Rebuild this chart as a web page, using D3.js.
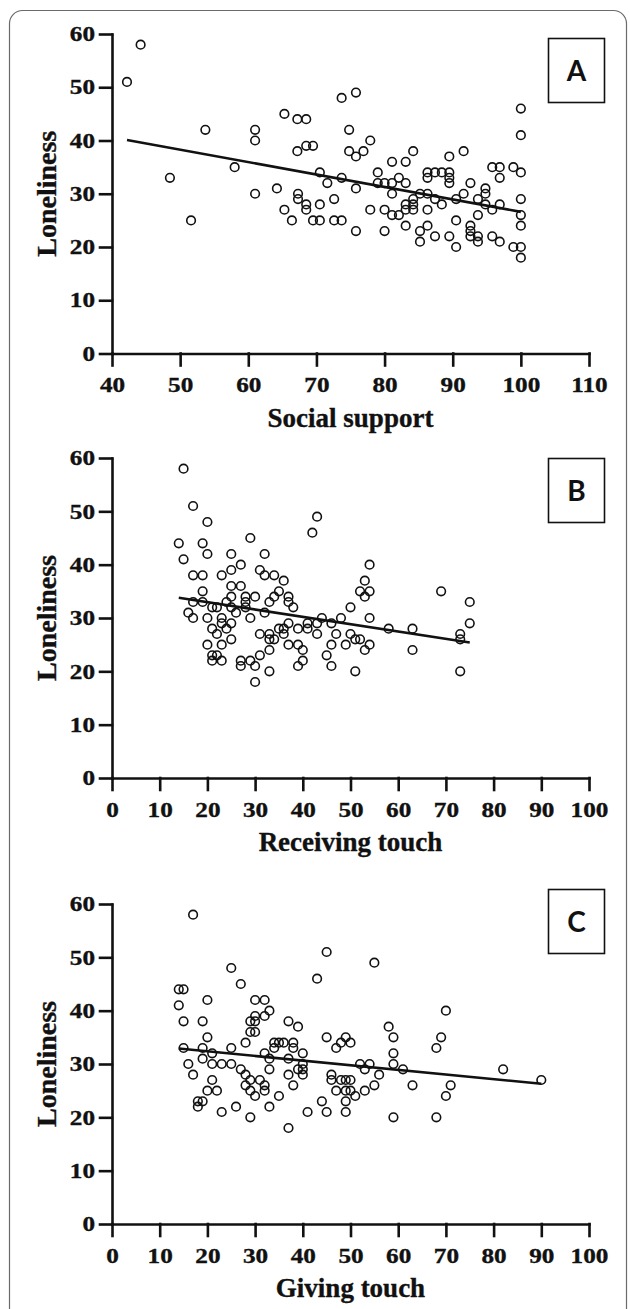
<!DOCTYPE html>
<html>
<head>
<meta charset="utf-8">
<script src="https://cdn.jsdelivr.net/npm/d3@7"></script>
<style>
body { margin: 0; background: #fff; }
</style>
</head>
<body>
<script>
// tick labels
var yTicks = [0, 10, 20, 30, 40, 50, 60];
var xTicksA = [40, 50, 60, 70, 80, 90, 100, 110];
var xTicksBC = [0, 10, 20, 30, 40, 50, 60, 70, 80, 90, 100];

// A: social support vs loneliness
var supportPts = [
  [42.2, 51], [44.2, 58], [48.5, 33], [51.6, 25], [53.7, 42], [58, 35],
  [61, 42], [61, 40], [61, 30], [64.2, 31], [65.3, 45], [65.3, 27], [66.4, 25],
  [67.2, 44], [68.5, 44], [67.2, 38], [68.5, 39], [69.5, 39], [67.3, 30], [67.3, 29],
  [68.5, 28], [68.5, 27], [69.5, 25], [70.5, 34], [70.5, 28], [70.5, 25], [71.6, 32],
  [72.6, 29], [72.6, 25], [73.7, 48], [73.7, 33], [73.7, 25], [74.8, 42], [74.8, 38],
  [75.8, 49], [75.8, 37], [75.8, 31], [75.8, 23], [76.9, 38], [77.9, 40], [77.9, 27],
  [79, 34], [79, 32], [80, 32], [80, 27], [80, 23], [81.1, 36], [81.1, 32], [81.1, 30],
  [81.1, 26], [82.1, 33], [82.1, 26], [83.1, 36], [83.1, 32], [83.1, 28], [83.1, 27],
  [83.1, 24], [84.2, 38], [84.2, 29], [84.2, 28], [84.2, 27], [85.2, 30], [85.2, 23],
  [85.2, 21], [86.3, 34], [86.3, 33], [86.3, 30], [86.3, 27], [86.3, 24], [87.4, 34],
  [87.4, 29], [87.4, 22], [88.4, 34], [88.4, 28], [89.5, 37], [89.5, 34], [89.5, 33],
  [89.5, 32], [89.5, 22], [90.5, 29], [90.5, 25], [90.5, 20], [91.6, 38], [91.6, 30],
  [92.6, 32], [92.6, 24], [92.6, 23], [92.6, 22], [93.7, 29], [93.7, 26], [93.7, 22],
  [93.7, 21], [94.8, 31], [94.8, 30], [94.8, 28], [95.8, 35], [95.8, 27], [95.8, 22],
  [96.9, 35], [96.9, 33], [96.9, 28], [96.9, 21], [98.9, 35], [98.9, 20],
  [100, 46], [100, 41], [100, 34], [100, 29], [100, 26], [100, 24], [100, 20], [100, 18]
];
var fitA = [[42.2, 40.1], [100, 26.6]];

// B: receiving touch vs loneliness
var receivingPts = [
  [14, 44], [15, 58], [15, 41], [16, 31], [17, 51], [17, 38], [17, 33], [17, 30],
  [19, 44], [19, 38], [19, 35], [19, 33], [20, 48], [20, 42], [20, 30], [20, 25],
  [21, 32], [21, 28], [21, 23], [21, 22], [22, 32], [22, 27], [22, 23], [23, 38],
  [23, 30], [23, 29], [23, 25], [23, 22], [24, 33], [24, 28], [25, 42], [25, 39],
  [25, 36], [25, 34], [25, 32], [25, 29], [25, 26], [26, 31], [27, 40], [27, 36],
  [27, 22], [27, 21], [28, 34], [28, 33], [28, 32], [29, 45], [29, 30], [29, 22],
  [30, 34], [30, 21], [30, 18], [31, 39], [31, 27], [31, 23], [32, 42], [32, 38],
  [32, 31], [33, 33], [33, 27], [33, 26], [33, 24], [33, 20], [34, 38], [34, 34],
  [34, 26], [35, 35], [35, 28], [36, 37], [36, 28], [36, 27], [37, 34], [37, 33],
  [37, 29], [37, 25], [38, 32], [39, 28], [39, 25], [39, 21], [40, 24], [40, 22],
  [41, 29], [41, 28], [42, 46], [43, 49], [43, 29], [43, 27], [44, 30], [45, 23],
  [46, 29], [46, 25], [46, 21], [47, 27], [48, 30], [49, 25], [50, 32], [50, 27],
  [51, 26], [51, 20], [52, 35], [52, 26], [53, 37], [53, 34], [53, 24], [54, 40],
  [54, 35], [54, 30], [54, 25], [58, 28], [63, 28], [63, 24], [69, 35], [73, 27],
  [73, 26], [73, 20], [75, 33], [75, 29]
];
var fitB = [[14, 33.8], [75, 25.4]];

// C: giving touch vs loneliness
var givingPts = [
  [14, 44], [15, 44], [14, 41], [15, 38], [15, 33], [17, 58], [16, 30], [17, 28],
  [18, 22], [18, 23], [19, 23], [19, 38], [19, 33], [19, 31], [20, 42], [20, 35],
  [20, 25], [21, 32], [21, 30], [21, 27], [22, 25], [23, 30], [23, 21], [25, 48],
  [25, 33], [25, 30], [26, 22], [27, 45], [27, 29], [28, 34], [28, 28], [28, 26],
  [29, 38], [29, 36], [29, 27], [29, 25], [29, 20], [30, 42], [30, 39], [30, 38],
  [30, 36], [30, 24], [31, 27], [32, 42], [32, 39], [32, 32], [32, 26], [32, 25],
  [33, 40], [33, 31], [33, 29], [33, 22], [34, 34], [34, 33], [35, 34], [35, 24],
  [36, 34], [37, 38], [37, 31], [37, 28], [37, 18], [38, 34], [38, 33], [38, 26],
  [39, 37], [39, 29], [40, 32], [40, 30], [40, 29], [40, 28], [41, 21], [43, 46],
  [44, 23], [45, 51], [45, 35], [45, 21], [46, 28], [46, 27], [47, 33], [47, 25],
  [48, 34], [48, 27], [49, 35], [49, 27], [49, 25], [49, 23], [49, 21], [50, 34],
  [50, 27], [50, 25], [51, 24], [52, 30], [53, 29], [53, 25], [54, 30], [55, 49],
  [55, 26], [56, 28], [58, 37], [59, 35], [59, 32], [59, 30], [59, 20], [61, 29],
  [63, 26], [68, 33], [68, 20], [69, 35], [70, 40], [70, 24], [71, 26], [82, 29],
  [90, 27]
];
var fitC = [[14, 32.9], [90, 26.3]];

var width = 630,
    height = 1309,
    left = 112, right = 589, // x-axis pixel range for every panel
    serif = "'Liberation Serif', 'Times New Roman', serif",
    stretch = 1.2; // tick digits in the figure are drawn wide

var panels = [
  { letter: "A", pts: supportPts, fit: fitA, xDomain: [40, 110], xTicks: xTicksA, title: "Social support", top: 34, bottom: 353.5, boxY: 38 },
  { letter: "B", pts: receivingPts, fit: fitB, xDomain: [0, 100], xTicks: xTicksBC, title: "Receiving touch", top: 458, bottom: 778, boxY: 458 },
  { letter: "C", pts: givingPts, fit: fitC, xDomain: [0, 100], xTicks: xTicksBC, title: "Giving touch", top: 904, bottom: 1224, boxY: 889 }
];

var svg = d3.select("body").append("svg")
    .attr("width", width)
    .attr("height", height);

// outer frame, runs off the bottom of the picture
svg.append("rect")
    .attr("x", 9.5).attr("y", 10.5)
    .attr("width", 617).attr("height", 1360)
    .attr("rx", 13)
    .attr("fill", "none")
    .attr("stroke", "#6a6a6a")
    .attr("stroke-width", 1.2);

panels.forEach(function (p) {
    var g = svg.append("g");

    var x = d3.scaleLinear().domain(p.xDomain).range([left, right]);
    var y = d3.scaleLinear().domain([0, 60]).range([p.bottom, p.top]);

    var xAxis = g.append("g")
        .attr("transform", "translate(0," + p.bottom + ")")
        .call(d3.axisBottom(x).tickValues(p.xTicks).tickSize(12).tickSizeOuter(0).tickPadding(12));

    var yAxis = g.append("g")
        .attr("transform", "translate(" + left + ",0)")
        .call(d3.axisLeft(y).tickValues(yTicks).tickSize(12).tickSizeOuter(0).tickPadding(5));

    [xAxis, yAxis].forEach(function (a) {
        a.selectAll(".domain, .tick line")
            .attr("stroke", "#111")
            .attr("stroke-width", 2.6)
            .attr("stroke-linecap", "square");
        a.selectAll(".tick text")
            .attr("font-family", serif)
            .attr("font-weight", "bold")
            .attr("font-size", 21)
            .attr("fill", "#111")
            .attr("stroke", "#111")
            .attr("stroke-width", 0.35);
    });

    // widen digits around their anchor
    xAxis.selectAll(".tick text")
        .attr("transform", "scale(" + stretch + ",1)");
    yAxis.selectAll(".tick text")
        .attr("x", 0)
        .attr("transform", "translate(-17,0) scale(" + stretch + ",1)");

    // points
    g.selectAll("circle")
        .data(p.pts)
        .enter().append("circle")
        .attr("cx", function (d) { return x(d[0]); })
        .attr("cy", function (d) { return y(d[1]); })
        .attr("r", 4.3)
        .attr("fill", "none")
        .attr("stroke", "#111")
        .attr("stroke-width", 1.6);

    // fitted line
    g.append("path")
        .datum(p.fit)
        .attr("d", d3.line().x(function (d) { return x(d[0]); }).y(function (d) { return y(d[1]); }))
        .attr("fill", "none")
        .attr("stroke", "#111")
        .attr("stroke-width", 2.6);

    // axis titles
    g.append("text")
        .attr("x", (left + right) / 2)
        .attr("y", p.bottom + 73)
        .attr("text-anchor", "middle")
        .attr("font-family", serif)
        .attr("font-weight", "bold")
        .attr("font-size", 27)
        .attr("fill", "#111")
        .attr("stroke", "#111")
        .attr("stroke-width", 0.35)
        .text(p.title);

    g.append("text")
        .attr("transform", "translate(56," + (p.top + p.bottom) / 2 + ") rotate(-90)")
        .attr("text-anchor", "middle")
        .attr("font-family", serif)
        .attr("font-weight", "bold")
        .attr("font-size", 28)
        .attr("fill", "#111")
        .attr("stroke", "#111")
        .attr("stroke-width", 0.35)
        .text("Loneliness");

    // panel letter box
    g.append("rect")
        .attr("x", 548.5).attr("y", p.boxY + 0.5)
        .attr("width", 56).attr("height", 64)
        .attr("fill", "#fff")
        .attr("stroke", "#111")
        .attr("stroke-width", 1.6);

    g.append("text")
        .attr("x", 576.5)
        .attr("y", p.boxY + 32.5)
        .attr("dy", "0.36em")
        .attr("text-anchor", "middle")
        .attr("font-family", "Lato, 'Open Sans', sans-serif")
        .attr("font-weight", "bold")
        .attr("font-size", 28)
        .attr("fill", "#111")
        .text(p.letter);
});
</script>
</body>
</html>
